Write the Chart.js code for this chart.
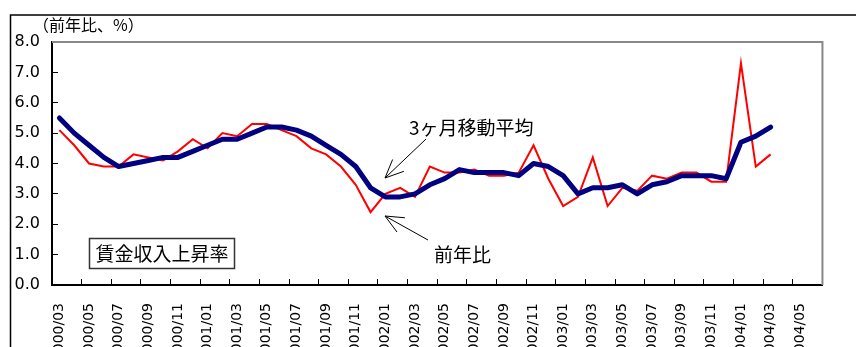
<!DOCTYPE html>
<html>
<head>
<meta charset="utf-8">
<script src="https://cdn.jsdelivr.net/npm/chart.js@4"></script>
<style>
  html, body { margin: 0; padding: 0; background: #fff; overflow: hidden; }
  #clip { width: 856px; height: 347px; overflow: hidden; }
  #box { position: relative; width: 856px; height: 400px; }
</style>
</head>
<body>
<div id="clip"><div id="box"><canvas id="myChart"></canvas></div></div>
<script>
'use strict';

const months = [
  '2000/03', '2000/04', '2000/05', '2000/06', '2000/07', '2000/08', '2000/09', '2000/10', '2000/11', '2000/12',
  '2001/01', '2001/02', '2001/03', '2001/04', '2001/05', '2001/06', '2001/07', '2001/08', '2001/09', '2001/10',
  '2001/11', '2001/12', '2002/01', '2002/02', '2002/03', '2002/04', '2002/05', '2002/06', '2002/07', '2002/08',
  '2002/09', '2002/10', '2002/11', '2002/12', '2003/01', '2003/02', '2003/03', '2003/04', '2003/05', '2003/06',
  '2003/07', '2003/08', '2003/09', '2003/10', '2003/11', '2003/12', '2004/01', '2004/02', '2004/03', '2004/04',
  '2004/05', '2004/06'
];

// 前年比 (%)
const yoy = [
  5.1, 4.6, 4.0, 3.9, 3.9, 4.3, 4.2, 4.1, 4.4, 4.8,
  4.5, 5.0, 4.9, 5.3, 5.3, 5.1, 4.9, 4.5, 4.3, 3.9,
  3.3, 2.4, 3.0, 3.2, 2.9, 3.9, 3.7, 3.7, 3.8, 3.6,
  3.6, 3.7, 4.6, 3.5, 2.6, 2.9, 4.2, 2.6, 3.2, 3.1,
  3.6, 3.5, 3.7, 3.7, 3.4, 3.4, 7.3, 3.9, 4.3
];

// 3ヶ月移動平均 (%)
const avg3 = [
  5.5, 5.0, 4.6, 4.2, 3.9, 4.0, 4.1, 4.2, 4.2, 4.4,
  4.6, 4.8, 4.8, 5.0, 5.2, 5.2, 5.1, 4.9, 4.6, 4.3,
  3.9, 3.2, 2.9, 2.9, 3.0, 3.3, 3.5, 3.8, 3.7, 3.7,
  3.7, 3.6, 4.0, 3.9, 3.6, 3.0, 3.2, 3.2, 3.3, 3.0,
  3.3, 3.4, 3.6, 3.6, 3.6, 3.5, 4.7, 4.9, 5.2
];

const yTicks = [0, 1, 2, 3, 4, 5, 6, 7, 8];

const data = {
  labels: months,
  datasets: [{
    label: '3ヶ月移動平均',
    data: avg3,
    borderColor: '#000080',
    borderWidth: 5,
    borderCapStyle: 'round',
    borderJoinStyle: 'round',
    pointRadius: 0,
    tension: 0
  }, {
    label: '前年比',
    data: yoy,
    borderColor: '#FF0000',
    borderWidth: 2,
    pointRadius: 0,
    tension: 0
  }]
};

function arrow(ctx, x1, y1, x2, y2) {
  const a = Math.atan2(y1 - y2, x1 - x2);
  const len = 20, spread = 0.42;
  ctx.beginPath();
  ctx.moveTo(x1, y1);
  ctx.lineTo(x2, y2);
  ctx.moveTo(x2 + len * Math.cos(a - spread), y2 + len * Math.sin(a - spread));
  ctx.lineTo(x2, y2);
  ctx.lineTo(x2 + len * Math.cos(a + spread), y2 + len * Math.sin(a + spread));
  ctx.stroke();
}

// frame, plot border and notes
const decor = {
  id: 'decor',
  afterDraw(chart) {
    const { ctx, chartArea: { top, right, left, bottom } } = chart;
    ctx.save();

    ctx.strokeStyle = '#000';
    ctx.lineWidth = 1.5;
    ctx.strokeRect(10.5, 15, 1000, 1000);

    ctx.strokeStyle = '#888';
    ctx.lineWidth = 2;
    ctx.beginPath();
    ctx.moveTo(left, top);
    ctx.lineTo(right, top);
    ctx.lineTo(right, bottom);
    ctx.stroke();

    ctx.fillStyle = '#000';
    ctx.textBaseline = 'middle';
    ctx.textAlign = 'left';
    ctx.font = '16px "Noto Sans CJK JP"';
    ctx.fillText('（前年比、%）', 33, 25);

    ctx.font = '19px "Noto Sans CJK JP"';
    ctx.fillText('3ヶ月移動平均', 409, 128);
    ctx.fillText('前年比', 434, 255);

    ctx.strokeStyle = '#000';
    ctx.lineWidth = 1;
    arrow(ctx, 426, 139, 385, 178);
    arrow(ctx, 428, 240, 385, 216);

    ctx.strokeStyle = '#333';
    ctx.lineWidth = 1.5;
    ctx.strokeRect(89.5, 238.5, 145, 30);
    ctx.textAlign = 'center';
    ctx.font = '19px "Noto Sans CJK JP"';
    ctx.fillText('賃金収入上昇率', 162, 254);

    ctx.restore();
  }
};

const config = {
  type: 'line',
  data,
  options: {
    responsive: true,
    maintainAspectRatio: false,
    animation: false,
    layout: { padding: { left: 0, top: 42, right: 17, bottom: 0 } },
    plugins: {
      legend: { display: false },
      tooltip: { enabled: false }
    },
    scales: {
      x: {
        offset: true,
        afterFit(scale) { scale.height = 115; },
        border: { color: '#000', width: 2 },
        grid: {
          offset: true,
          drawOnChartArea: false,
          tickLength: -6,
          tickWidth: 1,
          tickColor: c => (c.index % 2 === 0 ? '#000' : 'rgba(0,0,0,0)')
        },
        ticks: {
          autoSkip: false,
          minRotation: 90,
          maxRotation: 90,
          padding: 24,
          color: '#000',
          font: { family: '"DejaVu Sans"', size: 14 },
          callback: (v, i) => (i % 2 === 0 ? months[i] : '')
        }
      },
      y: {
        min: yTicks[0],
        max: yTicks[yTicks.length - 1],
        afterFit(scale) { scale.width = 52; },
        border: { color: '#000', width: 2 },
        grid: {
          drawOnChartArea: false,
          tickLength: -6,
          tickWidth: 1,
          tickColor: '#000'
        },
        afterBuildTicks(scale) { scale.ticks = yTicks.map(v => ({ value: v })); },
        ticks: {
          padding: 18,
          color: '#000',
          font: { family: '"DejaVu Sans"', size: 16 },
          callback: v => v.toFixed(1)
        }
      }
    }
  },
  plugins: [decor]
};

const myChart = new Chart(document.getElementById('myChart'), config);
</script>
</body>
</html>
